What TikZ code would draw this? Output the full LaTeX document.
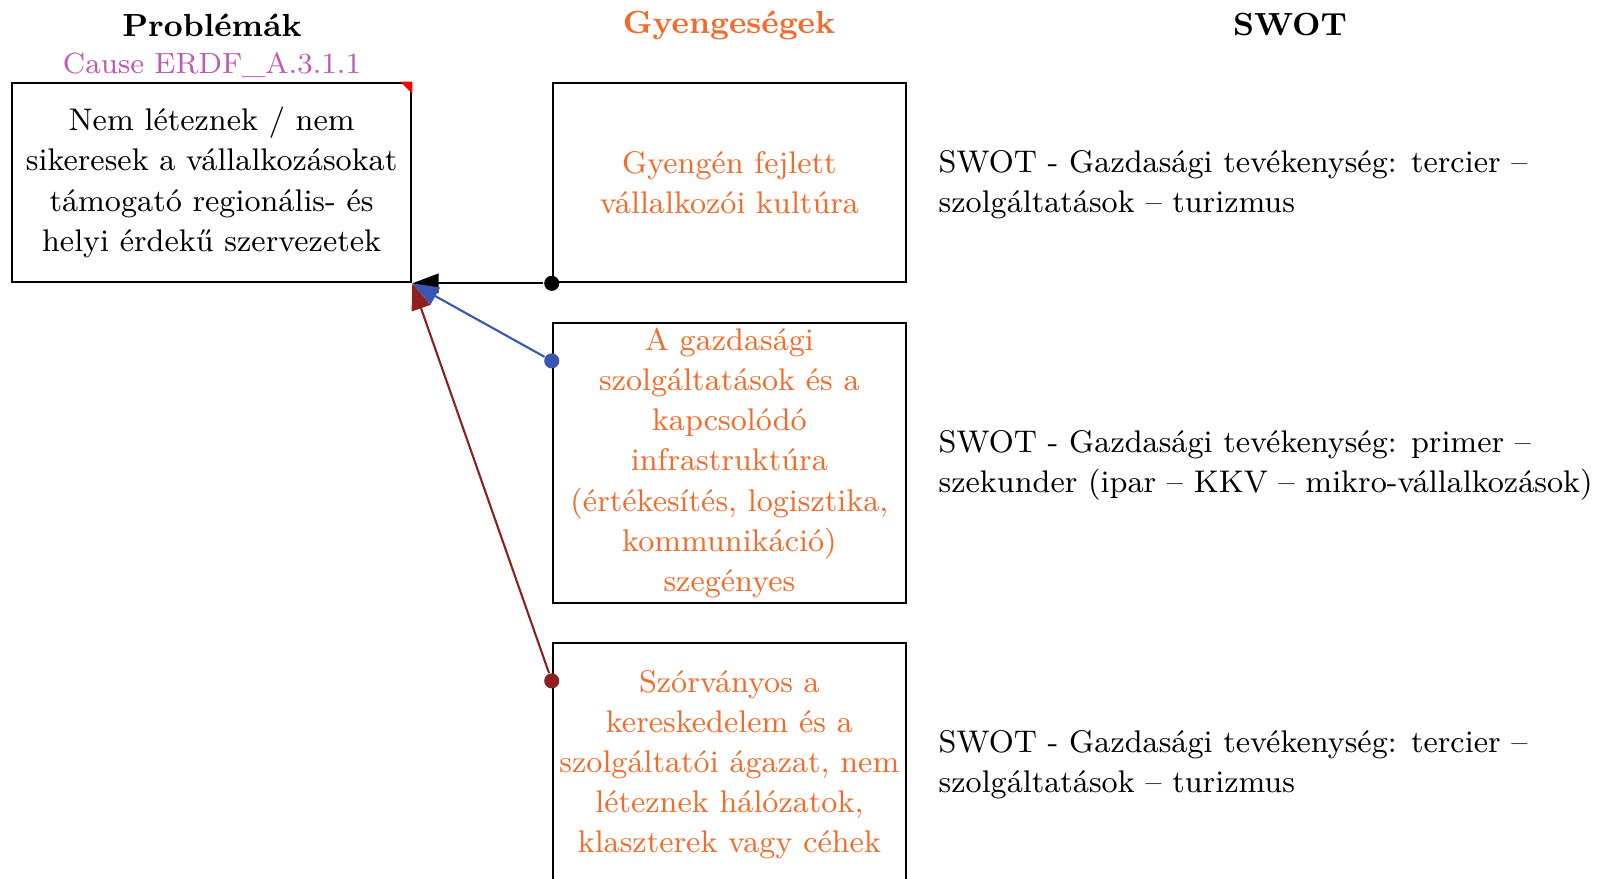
\documentclass[tikz,border=0pt]{standalone}
\usepackage{fontspec}
\usetikzlibrary{arrows.meta,calc}
\definecolor{gyorange}{HTML}{F26B2A}
\definecolor{causepink}{HTML}{C058B0}
\definecolor{linkblue}{HTML}{3A56B0}
\definecolor{linkred}{HTML}{8E2020}

\begin{document}
\begin{tikzpicture}[x=0.01cm,y=-0.01cm,>={Triangle[length=7.5pt,width=5.5pt]},
    every node/.style={font=\fontsize{8.9}{11.4}\selectfont},
    box/.style={draw,line width=0.6pt,inner sep=0pt,align=center},
    head/.style={font=\fontsize{9.1}{11.4}\selectfont\bfseries},
    dot/.style={circle,fill,inner sep=0pt,minimum size=4.3pt},]
        \useasboundingbox (0,0) rectangle (1603,879);
        % column heads
        \node[head] (hp) at (212,25) {Problémák};
        \node[text=causepink,font=\fontsize{8.3}{11.4}\selectfont] (hc) at (212,65) {Cause ERDF\_A.3.1.1};
        \node[head,text=gyorange] (hg) at (729,25) {Gyengeségek};
        \node[head] (hs) at (1290,25) {SWOT};
        % boxes
        \node[box,minimum width=3.99cm,minimum height=1.994cm] (p1) at (211.6,182.5)
            {Nem léteznek / nem\\sikeresek a vállalkozásokat\\támogató regionális- és\\helyi érdekű szervezetek};
        \fill[red] (p1.north east) -- ++(-12,0) -- ++(12,12) -- cycle;
        \node[box,text=gyorange,minimum width=3.53cm,minimum height=1.994cm] (g1) at (729.4,182.5)
            {Gyengén fejlett\\vállalkozói kultúra};
        \node[box,text=gyorange,minimum width=3.53cm,minimum height=2.8cm] (g2) at (729.4,463)
            {A gazdasági\\szolgáltatások és a\\kapcsolódó\\infrastruktúra\\(értékesítés, logisztika,\\kommunikáció)\\szegényes};
        \node[box,text=gyorange,minimum width=3.53cm,minimum height=2.44cm] (g3) at (729.4,765)
            {Szórványos a\\kereskedelem és a\\szolgáltatói ágazat, nem\\léteznek hálózatok,\\klaszterek vagy céhek};
        % SWOT
        \node[anchor=west,align=left,inner sep=0pt] (s1) at (938,184.5)
            {SWOT - Gazdasági tevékenység: tercier –\\szolgáltatások – turizmus};
        \node[anchor=west,align=left,inner sep=0pt] (s2) at (938,465.5)
            {SWOT - Gazdasági tevékenység: primer –\\szekunder (ipar – KKV – mikro-vállalkozások)};
        \node[anchor=west,align=left,inner sep=0pt] (s3) at (938,765)
            {SWOT - Gazdasági tevékenység: tercier –\\szolgáltatások – turizmus};
        % links
        \node[dot] (d1) at (g1.south west) {};
        \node[dot,linkblue] (d2) at ($(g2.north west)+(0,39)$) {};
        \node[dot,linkred] (d3) at ($(g3.north west)+(0,39)$) {};
        \draw[->,line width=0.6pt] (d1) -- (p1.south east);
        \draw[->,line width=0.6pt,linkblue] (d2) -- (p1.south east);
        \draw[->,line width=0.6pt,linkred] (d3) -- (p1.south east);
    \end{tikzpicture}
\end{document}
